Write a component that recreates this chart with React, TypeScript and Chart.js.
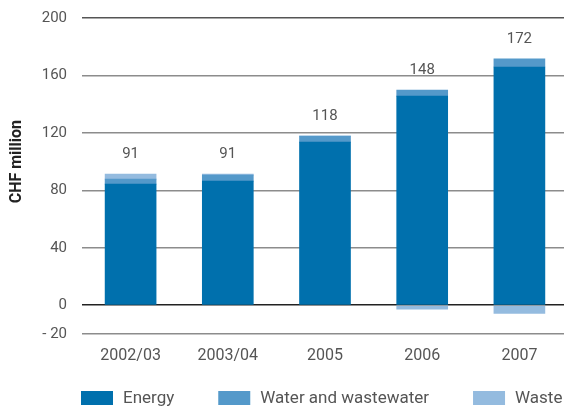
import { useEffect, useRef } from 'react';
import { Chart, registerables } from 'chart.js';

Chart.register(...registerables);

// Environmental protection expenditure, CHF million
const categories = ['2002/03', '2003/04', '2005', '2006', '2007'];
const energy = [84.3, 86.4, 113.6, 145.6, 165.9];
const water = [3.5, 4.2, 4.2, 4.2, 5.6];
const waste = [3.5, 0.7, 0, -2.8, -5.6];
const totals = [91, 91, 118, 148, 172];
const yTicks = [-20, 0, 40, 80, 120, 160, 200];
const seriesNames = ['Energy', 'Water and wastewater', 'Waste'];
const seriesColors = ['#0070ad', '#5499ca', '#94bbdf'];
const axisTitle = 'CHF million';

const FONT = 'Roboto, "DejaVu Sans", sans-serif';

// Draws the total above each stack, the rotated axis title and the legend row.
const overlayPlugin = {
  id: 'overlay',
  afterDraw(chart: any) {
    const { ctx, chartArea, scales } = chart;
    const xs = scales.x;
    const ys = scales.y;
    ctx.save();

    ctx.font = `15px ${FONT}`;
    ctx.fillStyle = '#555';
    ctx.textAlign = 'center';
    ctx.textBaseline = 'middle';
    categories.forEach((_, i) => {
      const top = [energy[i], water[i], waste[i]]
        .filter((v) => v > 0)
        .reduce((a, b) => a + b, 0);
      ctx.fillText(String(totals[i]), xs.getPixelForValue(i), ys.getPixelForValue(top) - 20);
    });

    ctx.save();
    ctx.translate(17, (chartArea.top + ys.getPixelForValue(0)) / 2);
    ctx.rotate(-Math.PI / 2);
    ctx.font = `bold 16px ${FONT}`;
    ctx.fillStyle = '#222';
    ctx.fillText(axisTitle, 0, 0);
    ctx.restore();

    ctx.font = `17px ${FONT}`;
    ctx.textAlign = 'left';
    ctx.textBaseline = 'middle';
    let lx = chartArea.left - 1;
    const ly = 391;
    seriesNames.forEach((name, i) => {
      ctx.fillStyle = seriesColors[i];
      ctx.fillRect(lx, ly, 32, 14);
      ctx.fillStyle = '#555';
      ctx.fillText(name, lx + 42, ly + 7.5);
      lx += 42 + ctx.measureText(name).width + 44;
    });

    ctx.restore();
  },
};

export default function App() {
  const canvasRef = useRef<HTMLCanvasElement | null>(null);

  useEffect(() => {
    const canvas = canvasRef.current;
    if (!canvas) return;
    const values = [energy, water, waste];
    const chart = new Chart(canvas, {
      type: 'bar',
      data: {
        labels: categories,
        datasets: seriesNames.map((name, i) => ({
          label: name,
          data: values[i],
          backgroundColor: seriesColors[i],
          borderWidth: 0,
          barThickness: 51,
        })),
      },
      options: {
        responsive: false,
        animation: false,
        devicePixelRatio: 1,
        layout: { padding: { top: 18, bottom: 34, left: 0, right: 0 } },
        plugins: {
          legend: { display: false },
          tooltip: { enabled: false },
        },
        scales: {
          x: {
            stacked: true,
            grid: { display: false, drawTicks: false },
            border: { display: false },
            ticks: {
              padding: 12,
              color: '#555',
              font: { family: FONT, size: 16 },
            },
            afterFit: (scale: any) => {
              scale.height = 40;
            },
          },
          y: {
            stacked: true,
            min: -20,
            max: 200,
            border: { display: false },
            grid: {
              drawTicks: false,
              lineWidth: 1.6,
              color: (c: any) => {
                const v = c.tick && c.tick.value;
                if (v === 0) return '#222';
                if (v === 200) return '#555';
                return '#8c8c8c';
              },
            },
            afterBuildTicks: (scale: any) => {
              scale.ticks = yTicks.map((v) => ({ value: v }));
            },
            afterFit: (scale: any) => {
              scale.width = 82;
              scale.paddingTop = 0;
              scale.paddingBottom = 0;
            },
            ticks: {
              padding: 15,
              color: '#555',
              font: { family: FONT, size: 15 },
              callback: (v: any) => (Number(v) < 0 ? `- ${Math.abs(Number(v))}` : String(v)),
            },
          },
        },
      },
      plugins: [overlayPlugin],
    });
    return () => chart.destroy();
  }, []);

  return (
    <div
      style={{
        position: 'fixed',
        left: 0,
        top: 0,
        width: 564,
        height: 408,
        overflow: 'hidden',
        background: '#fff',
      }}
    >
      <canvas ref={canvasRef} width={568} height={408} style={{ display: 'block' }} />
    </div>
  );
}
